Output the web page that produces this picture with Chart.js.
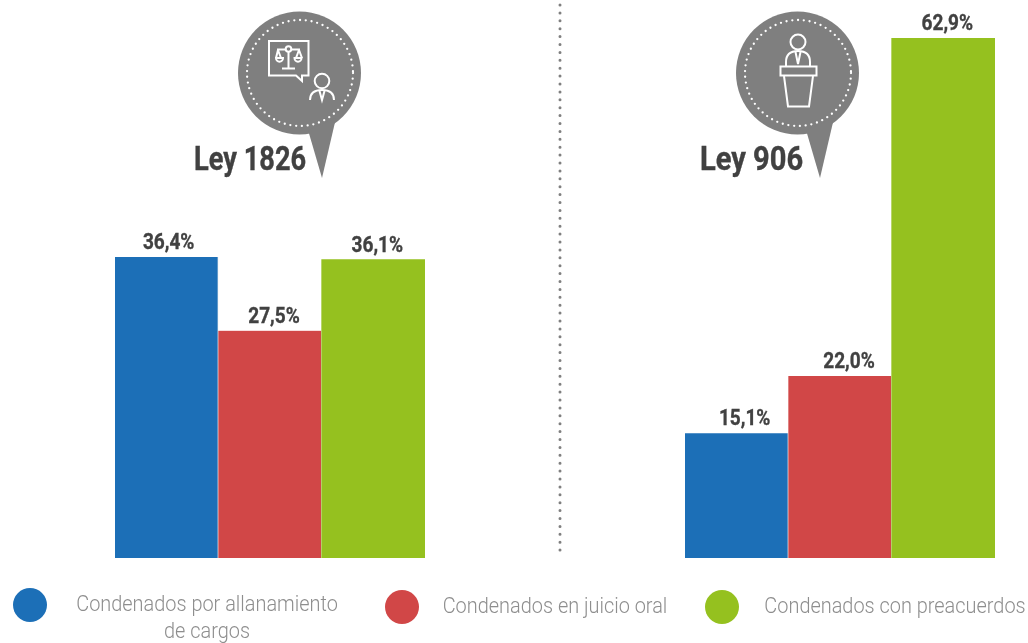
<!DOCTYPE html>
<html lang="es"><head><meta charset="utf-8">
<script src="https://cdn.jsdelivr.net/npm/chart.js@4"></script>
<style>
html,body{margin:0;padding:0;background:#fff;width:1028px;height:643px;overflow:hidden}
canvas{position:absolute;top:0}
.abs{position:absolute}
.title{font:bold 34px Roboto,sans-serif;color:#414141;white-space:nowrap;line-height:38px;transform-origin:left top;-webkit-text-stroke:.4px #414141}
.leg{font-family:Roboto,sans-serif;font-weight:300;font-size:22px;line-height:27px;color:#8e8e8e;white-space:nowrap;text-align:center;transform:scaleX(.905);transform-origin:center top}
.dot{position:absolute;width:34px;height:34px;border-radius:50%}
</style></head><body>
<canvas id="c1"></canvas><canvas id="c2"></canvas>

<svg class="abs" style="left:0;top:0" width="1028" height="643" viewBox="0 0 1028 643" fill="none">
  <line x1="560" y1="5" x2="560" y2="555" stroke="#7f7f7f" stroke-width="3" stroke-linecap="round" stroke-dasharray="0 7.9"/>
  <!-- pin 1 -->
  <circle cx="299.500" cy="73" r="61.500" fill="#7f7f7f"/>
  <path d="M308 130 L322 178 L336 118 Z" fill="#7f7f7f"/>
  <circle cx="300" cy="73" r="53" stroke="#fff" stroke-width="2.300" stroke-linecap="round" stroke-dasharray="0 5.800"/>
  <g stroke="#fff" stroke-width="2">
    <path d="M269 41 H308.500 V75.500 H302 V81 L296 75.500 H269 Z"/>
    <circle cx="288.500" cy="49" r="2.800"/>
    <path d="M288.500 52 V68 M282 68.500 H295 M277 49.500 H285.500 M291.500 49.500 H300 M278 50 L276 58 M278 50 L281 58 M299 50 L296 58 M299 50 L302 58"/>
    <path d="M276 58 H283 A3.500 3.800 0 0 1 276 58 Z M294.500 58 H301.500 A3.500 3.800 0 0 1 294.500 58 Z"/>
    <circle cx="322" cy="81" r="7.300"/>
    <path d="M310 100 C310 93 315 90 322 90 C329 90 334 93 334 100"/>
    <path d="M319.500 91 L322 100 L324.500 91"/>
  </g>
  <!-- pin 2 -->
  <circle cx="797.500" cy="73" r="61.500" fill="#7f7f7f"/>
  <path d="M806 130 L820 178 L834 118 Z" fill="#7f7f7f"/>
  <circle cx="798" cy="73" r="53" stroke="#fff" stroke-width="2.300" stroke-linecap="round" stroke-dasharray="0 5.800"/>
  <g stroke="#fff" stroke-width="2">
    <circle cx="798" cy="42" r="7.500"/>
    <path d="M786 66 V62 C786 54 791 51 798 51 C805 51 810 54 810 62 V66"/>
    <path d="M795.500 52 L798 64 L800.500 52"/>
    <rect x="780.500" y="66.500" width="36" height="9"/>
    <path d="M784 76 L788 106.500 H809 L813 76"/>
  </g>
</svg>

<div class="abs title" style="left:194px;top:139px;transform:scaleX(.8)">Ley 1826</div>
<div class="abs title" style="left:700px;top:139px;transform:scaleX(.855)">Ley 906</div>

<div class="dot" style="left:13px;top:588px;background:#1c6fb7"></div>
<div class="abs leg" style="left:57px;top:590px;width:300px">Condenados por allanamiento<br>de cargos</div>
<div class="dot" style="left:385px;top:590px;background:#d14747"></div>
<div class="abs leg" style="left:405px;top:592px;width:300px">Condenados en juicio oral</div>
<div class="dot" style="left:705px;top:590px;background:#95c11f"></div>
<div class="abs leg" style="left:745px;top:592px;width:300px">Condenados con preacuerdos</div>

<script>
const categories = ["Condenados por allanamiento de cargos", "Condenados en juicio oral", "Condenados con preacuerdos"];
const ley1826 = [36.4, 27.5, 36.1];
const ley906 = [15.1, 22.0, 62.9];
const barColors = ["#1c6fb7", "#d14747", "#95c11f"];
const axisMax = 62.9;

const valueLabels = {
  id: "valueLabels",
  afterDatasetsDraw(chart, args, opts) {
    const ctx = chart.ctx, meta = chart.getDatasetMeta(0), data = chart.data.datasets[0].data;
    meta.data.forEach((bar, i) => {
      ctx.save();
      ctx.translate(bar.x + opts.shift[i], bar.y - 8);
      ctx.scale(0.865, 1);
      ctx.font = 'bold 22px Roboto, sans-serif';
      ctx.fillStyle = "#414141";
      ctx.strokeStyle = "#414141";
      ctx.lineWidth = 0.35;
      ctx.textAlign = "center";
      ctx.textBaseline = "alphabetic";
      const text = data[i].toFixed(1).replace(".", ",") + "%";
      ctx.fillText(text, 0, 0);
      ctx.strokeText(text, 0, 0);
      ctx.restore();
    });
  }
};

function makeChart(id, values, left, width, padLeft, padRight, shift) {
  const el = document.getElementById(id);
  el.style.left = left + "px";
  el.width = width; el.height = 643;
  el.style.width = width + "px"; el.style.height = "643px";
  return new Chart(el, {
    type: "bar",
    data: { labels: categories, datasets: [{ data: values, backgroundColor: barColors,
      borderColor: "#f1f1f1", borderSkipped: false,
      borderWidth: [{ right: 1 }, { right: 1 }, 0],
      barPercentage: 1, categoryPercentage: 1 }] },
    options: {
      responsive: false, animation: false,
      layout: { padding: { left: padLeft, right: padRight, top: 38, bottom: 85 } },
      plugins: { legend: { display: false }, tooltip: { enabled: false }, valueLabels: { shift } },
      scales: {
        x: { display: false },
        y: { display: false, min: 0, max: axisMax }
      }
    },
    plugins: [valueLabels]
  });
}
makeChart("c1", ley1826, 0, 514, 115, 89, [2, 4, 4]);
makeChart("c2", ley906, 514, 514, 171, 33, [8, 9, 4]);
</script>
</body></html>
